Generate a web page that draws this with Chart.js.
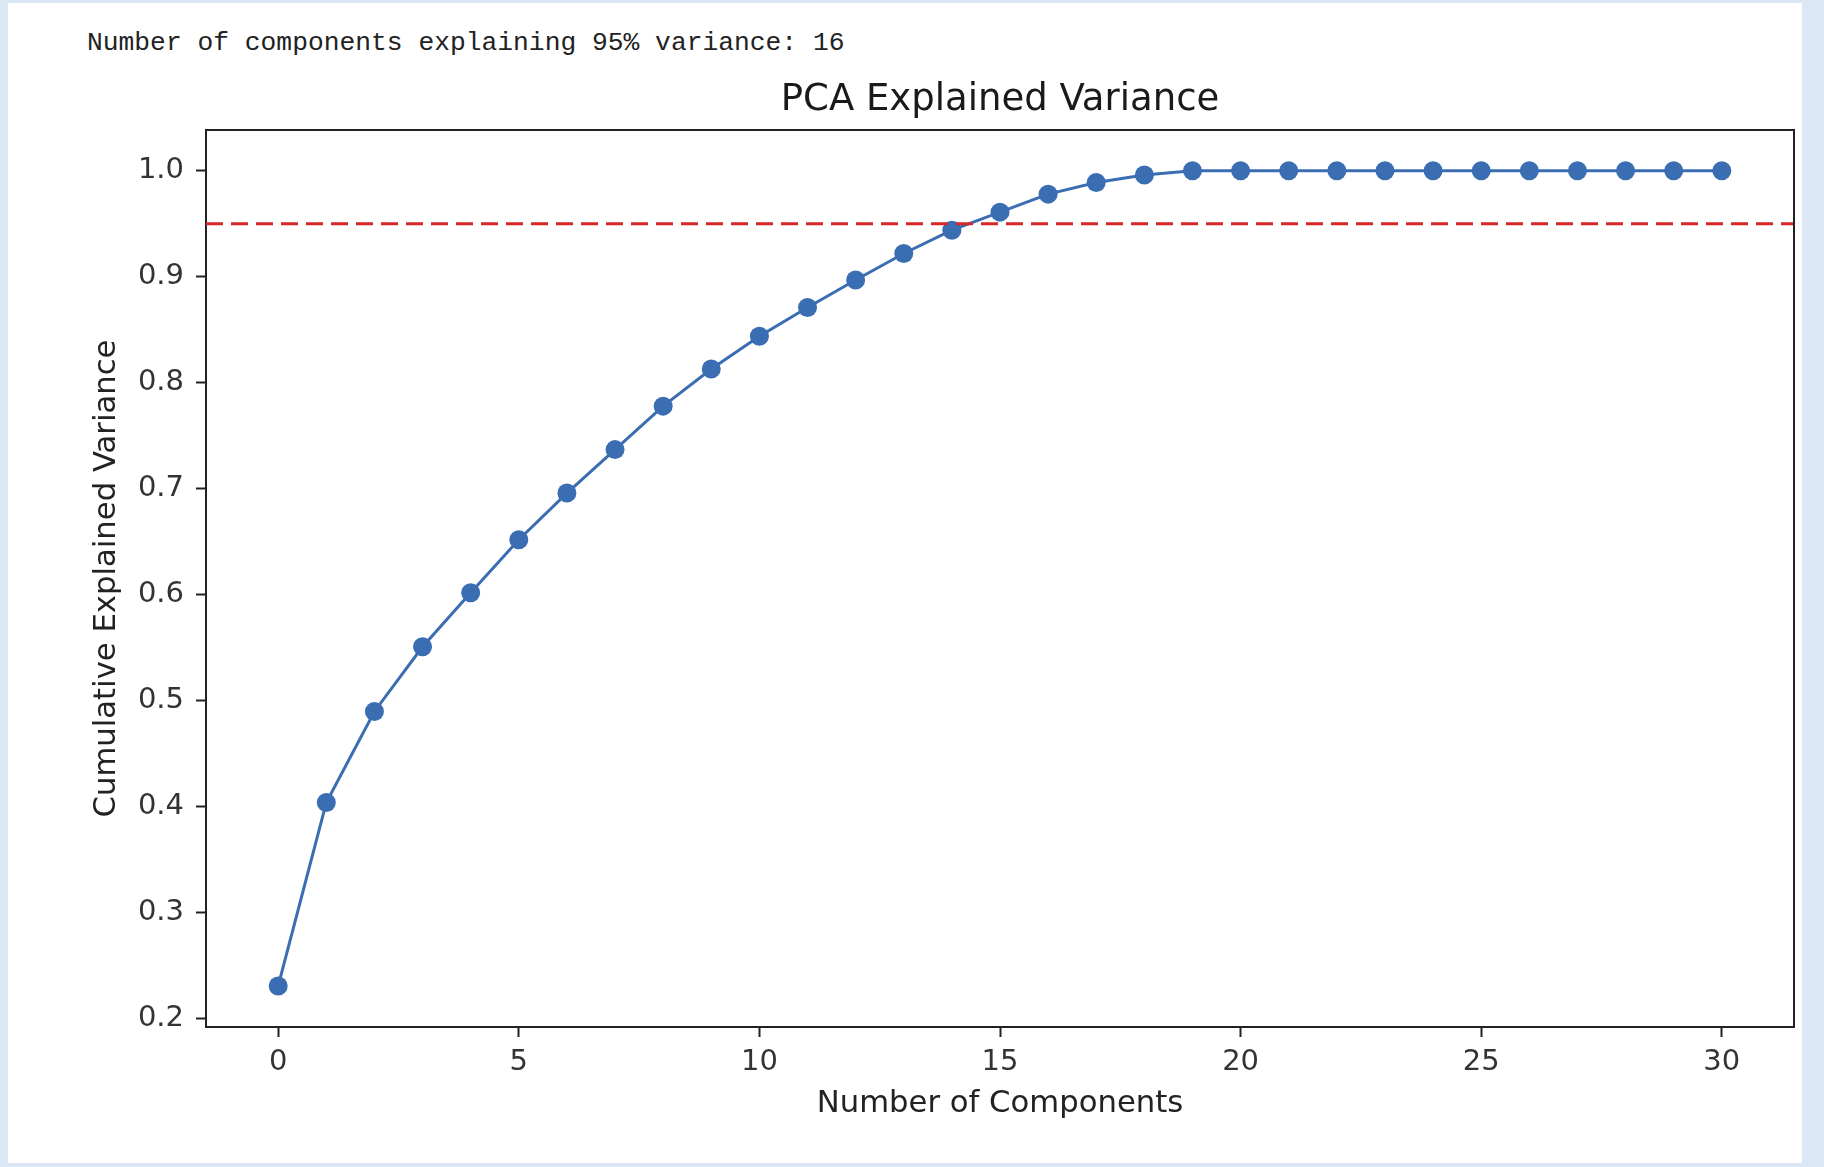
<!DOCTYPE html>
<html>
<head>
<meta charset="utf-8">
<script src="https://cdn.jsdelivr.net/npm/chart.js@4.4.1/dist/chart.umd.min.js"></script>
<style>
  html, body { margin: 0; padding: 0; }
  body { width: 1824px; height: 1167px; background: #dbe7f4; position: relative; overflow: hidden; }
  #panel { position: absolute; left: 8px; top: 3px; width: 1794px; height: 1160px; background: #fff; }
  #note { position: absolute; left: 87px; top: 28px; font: 26.3px/30px "Liberation Mono", "DejaVu Sans Mono", monospace; color: #222; white-space: pre; }
  #wrap { position: absolute; left: 0; top: 0; width: 1824px; height: 1167px; }
</style>
</head>
<body>
<div id="panel"></div>
<div id="note">Number of components explaining 95% variance: 16</div>
<div id="wrap"><canvas id="chart" width="1824" height="1167"></canvas></div>
<script>
// cumulative explained variance, one value per component index
const components = [0, 1, 2, 3, 4, 5, 6, 7, 8, 9, 10, 11, 12, 13, 14, 15,
                    16, 17, 18, 19, 20, 21, 22, 23, 24, 25, 26, 27, 28, 29, 30];
const cumVariance = [0.231, 0.404, 0.490, 0.551, 0.602, 0.652, 0.696, 0.737, 0.778, 0.813,
                     0.844, 0.871, 0.897, 0.922, 0.944, 0.961, 0.978, 0.989, 0.996, 1.0,
                     1.0, 1.0, 1.0, 1.0, 1.0, 1.0, 1.0, 1.0, 1.0, 1.0, 1.0];
const threshold = 0.95;
const xTicks = [0, 5, 10, 15, 20, 25, 30];
const yTicks = [0.2, 0.3, 0.4, 0.5, 0.6, 0.7, 0.8, 0.9, 1.0];
const chartTitle = 'PCA Explained Variance';

const lineColor = '#3a6db2';
const axisColor = '#222';

// title over the plot box, red dashed threshold line, top/right frame
const extras = {
  id: 'extras',
  afterDatasetsDraw(chart) {
    const { ctx, chartArea, scales } = chart;
    const y = scales.y.getPixelForValue(threshold);
    ctx.save();
    ctx.strokeStyle = '#d62728';
    ctx.lineWidth = 3;
    ctx.setLineDash([17, 8]);
    ctx.beginPath();
    ctx.moveTo(chartArea.left, y);
    ctx.lineTo(chartArea.right, y);
    ctx.stroke();
    ctx.restore();
  },
  afterDraw(chart) {
    const { ctx, chartArea } = chart;
    ctx.save();
    ctx.strokeStyle = axisColor;
    ctx.lineWidth = 2;
    ctx.beginPath();
    ctx.moveTo(chartArea.left, chartArea.top);
    ctx.lineTo(chartArea.right, chartArea.top);
    ctx.lineTo(chartArea.right, chartArea.bottom);
    ctx.stroke();

    ctx.fillStyle = '#1a1a1a';
    ctx.font = '37px "DejaVu Sans"';
    ctx.textAlign = 'center';
    ctx.textBaseline = 'middle';
    ctx.fillText(chartTitle, (chartArea.left + chartArea.right) / 2, chartArea.top - 30);
    ctx.restore();
  }
};

const ctx = document.getElementById('chart').getContext('2d');
new Chart(ctx, {
  type: 'line',
  data: {
    datasets: [{
      data: components.map((c, i) => ({ x: c, y: cumVariance[i] })),
      borderColor: lineColor,
      backgroundColor: lineColor,
      borderWidth: 3,
      pointRadius: 9.5,
      pointBorderWidth: 0,
      tension: 0,
      clip: false
    }]
  },
  options: {
    responsive: false,
    animation: false,
    layout: { padding: { left: 0, right: 30, top: 130, bottom: 0 } },
    plugins: {
      legend: { display: false },
      tooltip: { enabled: false },
      title: { display: false }
    },
    scales: {
      x: {
        type: 'linear',
        min: -1.5,
        max: 31.5,
        afterBuildTicks: (s) => { s.ticks = xTicks.map(v => ({ value: v })); },
        afterFit: (s) => { s.height = 140; },
        ticks: {
          autoSkip: false,
          maxRotation: 0,
          padding: 8,
          color: '#333',
          font: { family: 'DejaVu Sans', size: 29 }
        },
        grid: { drawOnChartArea: false, drawTicks: true, tickLength: 10, tickColor: axisColor, tickWidth: 2 },
        border: { display: true, color: axisColor, width: 2 },
        title: {
          display: true,
          text: 'Number of Components',
          color: '#222',
          font: { family: 'DejaVu Sans', size: 30.7, lineHeight: 1.2 },
          padding: { top: 0, bottom: 45 }
        }
      },
      y: {
        type: 'linear',
        min: 0.1923,
        max: 1.0385,
        afterBuildTicks: (s) => { s.ticks = yTicks.map(v => ({ value: v })); },
        afterFit: (s) => { s.width = 206; },
        ticks: {
          autoSkip: false,
          padding: 12,
          color: '#333',
          font: { family: 'DejaVu Sans', size: 29 },
          callback: (v) => v.toFixed(1)
        },
        grid: { drawOnChartArea: false, drawTicks: true, tickLength: 10, tickColor: axisColor, tickWidth: 2 },
        border: { display: true, color: axisColor, width: 2 },
        title: {
          display: true,
          text: 'Cumulative Explained Variance',
          color: '#222',
          font: { family: 'DejaVu Sans', size: 30.7, lineHeight: 1.2 },
          padding: { top: 89, bottom: 0 }
        }
      }
    }
  },
  plugins: [extras]
});
</script>
</body>
</html>
